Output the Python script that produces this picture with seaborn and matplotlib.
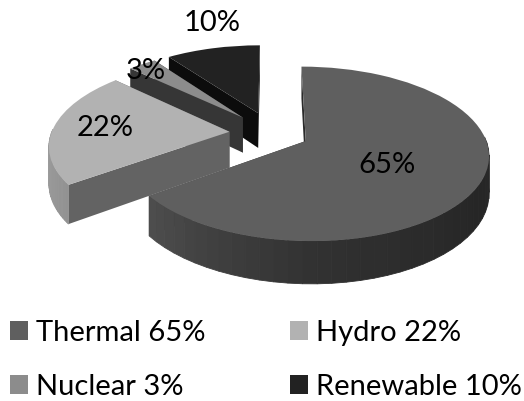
import numpy as np
import matplotlib
matplotlib.use("Agg")
import matplotlib.pyplot as plt
from matplotlib.transforms import Transform
import seaborn as sns

categories = ["Thermal", "Hydro", "Nuclear", "Renewable"]
shares = [65, 22, 3, 10]
pull_out = [0.21, 0.24, 0.255, 0.26]
top_colors = ["#5f5f5f", "#b2b2b2", "#8c8c8c", "#222222"]
cut_colors = ["#2b2b2b", "#636363", "#363636", "#0c0c0c"]
label_positions = [(387, 165), (105, 128), (146, 71), (212, 23)]
legend_order = [0, 2, 1, 3]

sns.set_theme(style="white", rc={"font.family": "Lato"})

# Camera used to lay the exploded pie on a receding ground plane
CX, CY = 272.0, 133.0
SCALE_X, SCALE_Y = 178.0, 83.0
RECEDE = 0.145
DEPTH = 36.0


def project(x, y, z=0.0):
    w = 1 + RECEDE * np.asarray(y)
    return CX + SCALE_X * np.asarray(x) / w, CY - (SCALE_Y * np.asarray(y) + DEPTH * z) / w


class GroundPlane(Transform):
    input_dims = output_dims = 2

    def transform_non_affine(self, values):
        values = np.asarray(values)
        return np.column_stack(project(values[:, 0], values[:, 1]))


def rim_shade(clock_deg):
    # Light falls from the left, so the right of the rim is darkest
    return np.interp(clock_deg, [90, 120, 180, 234, 270, 360], [0.42, 0.40, 0.52, 0.82, 0.90, 0.90])


fig, ax = plt.subplots(figsize=(5.24, 4.01), dpi=100)
fig.subplots_adjust(0, 0, 1, 1)

wedges, _ = ax.pie(shares, colors=sns.color_palette(top_colors), explode=pull_out,
                   startangle=90, counterclock=False, radius=1.0)
ax.set_aspect("auto")
ax.set_xlim(0, 524)
ax.set_ylim(401, 0)
ax.set_axis_off()

ground = GroundPlane() + ax.transData
# Far slices first so the nearer ones overlap them
for order, idx in enumerate([3, 2, 1, 0]):
    wedge = wedges[idx]
    cx, cy = wedge.center
    base = np.array(matplotlib.colors.to_rgb(top_colors[idx]))
    z_base = 2 + order * 3
    angles = np.linspace(wedge.theta1, wedge.theta2, 60)

    # Flat faces left by the cut, from centre to rim
    for edge in (wedge.theta1, wedge.theta2):
        ex, ey = cx + np.cos(np.radians(edge)), cy + np.sin(np.radians(edge))
        xs = np.array([cx, ex, ex, cx])
        ys = np.array([cy, ey, ey, cy])
        zs = np.array([0, 0, -1, -1])
        px, py = project(xs, ys, zs)
        ax.fill(px, py, color=cut_colors[idx], lw=0, zorder=z_base)

    # Outer wall in narrow shaded strips, only where it faces the viewer
    for a0, a1 in zip(angles[:-1], angles[1:]):
        mid = np.radians((a0 + a1) / 2)
        if np.sin(mid) > 0.03:
            continue
        t = np.radians([a0, a1, a1, a0])
        xs = cx + np.cos(t)
        ys = cy + np.sin(t)
        zs = np.array([0, 0, -1, -1])
        px, py = project(xs, ys, zs)
        clock = (90 - (a0 + a1) / 2) % 360
        shade = tuple(base * rim_shade(clock))
        ax.fill(px, py, facecolor=shade, edgecolor=shade, lw=0.6, zorder=z_base + 1)

    wedge.set_transform(ground)
    wedge.set_edgecolor("none")
    wedge.set_zorder(z_base + 2)

for share, (lx, ly) in zip(shares, label_positions):
    ax.text(lx, ly, f"{share}%", ha="center", va="center", fontsize=21, color="black", zorder=30)

legend_labels = [f"{name} {share}%" for name, share in zip(categories, shares)]
ax.legend([wedges[i] for i in legend_order], [legend_labels[i] for i in legend_order],
          ncol=2, frameon=False, fontsize=21,
          loc="lower left", bbox_to_anchor=(0.008, -0.0125), handlelength=0.62, handleheight=0.62,
          handletextpad=0.27, columnspacing=2.9, labelspacing=0.96, labelcolor="black",
          borderpad=0.2, borderaxespad=0)

fig.savefig("out.png", dpi=100)
